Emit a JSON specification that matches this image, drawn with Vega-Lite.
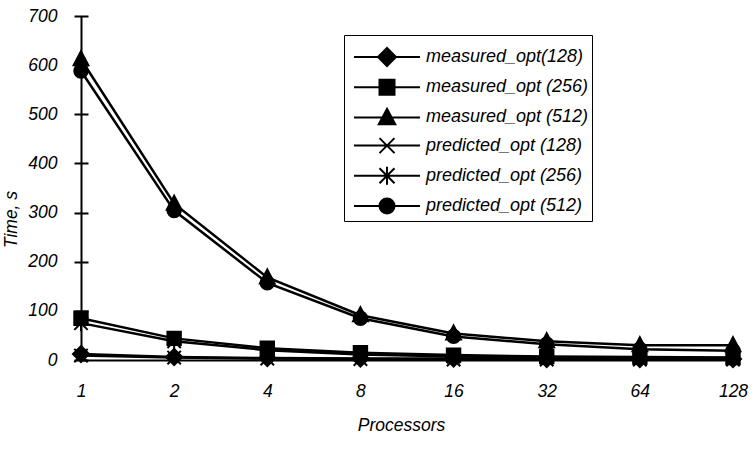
{
  "$schema": "https://vega.github.io/schema/vega-lite/v6.json",
  "width": 652,
  "height": 344,
  "autosize": {"type": "none"},
  "padding": {"left": 81, "top": 16, "right": 22, "bottom": 92},
  "background": "white",
  "config": {"view": {"stroke": null}, "font": "Liberation Sans"},
  "data": {
    "values": [
      {"s": "measured_opt(128)", "p": "1", "t": 12},
      {"s": "measured_opt(128)", "p": "2", "t": 6},
      {"s": "measured_opt(128)", "p": "4", "t": 4},
      {"s": "measured_opt(128)", "p": "8", "t": 3},
      {"s": "measured_opt(128)", "p": "16", "t": 3},
      {"s": "measured_opt(128)", "p": "32", "t": 2},
      {"s": "measured_opt(128)", "p": "64", "t": 2},
      {"s": "measured_opt(128)", "p": "128", "t": 2},
      {"s": "measured_opt (256)", "p": "1", "t": 85},
      {"s": "measured_opt (256)", "p": "2", "t": 44},
      {"s": "measured_opt (256)", "p": "4", "t": 24},
      {"s": "measured_opt (256)", "p": "8", "t": 15},
      {"s": "measured_opt (256)", "p": "16", "t": 10},
      {"s": "measured_opt (256)", "p": "32", "t": 7},
      {"s": "measured_opt (256)", "p": "64", "t": 6},
      {"s": "measured_opt (256)", "p": "128", "t": 5},
      {"s": "measured_opt (512)", "p": "1", "t": 612},
      {"s": "measured_opt (512)", "p": "2", "t": 318},
      {"s": "measured_opt (512)", "p": "4", "t": 168},
      {"s": "measured_opt (512)", "p": "8", "t": 91},
      {"s": "measured_opt (512)", "p": "16", "t": 54},
      {"s": "measured_opt (512)", "p": "32", "t": 38},
      {"s": "measured_opt (512)", "p": "64", "t": 30},
      {"s": "measured_opt (512)", "p": "128", "t": 30},
      {"s": "predicted_opt (128)", "p": "1", "t": 9},
      {"s": "predicted_opt (128)", "p": "2", "t": 5},
      {"s": "predicted_opt (128)", "p": "4", "t": 3},
      {"s": "predicted_opt (128)", "p": "8", "t": 2},
      {"s": "predicted_opt (128)", "p": "16", "t": 1},
      {"s": "predicted_opt (128)", "p": "32", "t": 1},
      {"s": "predicted_opt (128)", "p": "64", "t": 1},
      {"s": "predicted_opt (128)", "p": "128", "t": 1},
      {"s": "predicted_opt (256)", "p": "1", "t": 75},
      {"s": "predicted_opt (256)", "p": "2", "t": 38},
      {"s": "predicted_opt (256)", "p": "4", "t": 20},
      {"s": "predicted_opt (256)", "p": "8", "t": 11},
      {"s": "predicted_opt (256)", "p": "16", "t": 7},
      {"s": "predicted_opt (256)", "p": "32", "t": 5},
      {"s": "predicted_opt (256)", "p": "64", "t": 4},
      {"s": "predicted_opt (256)", "p": "128", "t": 4},
      {"s": "predicted_opt (512)", "p": "1", "t": 588},
      {"s": "predicted_opt (512)", "p": "2", "t": 304},
      {"s": "predicted_opt (512)", "p": "4", "t": 157},
      {"s": "predicted_opt (512)", "p": "8", "t": 85},
      {"s": "predicted_opt (512)", "p": "16", "t": 48},
      {"s": "predicted_opt (512)", "p": "32", "t": 32},
      {"s": "predicted_opt (512)", "p": "64", "t": 22},
      {"s": "predicted_opt (512)", "p": "128", "t": 19}
    ]
  },
  "encoding": {
    "x": {
      "field": "p",
      "type": "ordinal",
      "sort": ["1", "2", "4", "8", "16", "32", "64", "128"],
      "scale": {"type": "point", "padding": 0},
      "axis": {
        "title": "Processors",
        "labelAngle": 0,
        "labelFont": "Liberation Sans",
        "labelFontSize": 17.5,
        "labelFontStyle": "italic",
        "labelColor": "black",
        "labelPadding": 22,
        "ticks": false,
        "tickSize": 0,
        "domain": true,
        "domainColor": "black",
        "domainWidth": 2,
        "titleFont": "Liberation Sans",
        "titleFontSize": 17.5,
        "titleFontStyle": "italic",
        "titleFontWeight": "normal",
        "titleColor": "black",
        "titlePadding": 17,
        "titleX": 320
      }
    }
  },
  "layer": [
    {
      "mark": {"type": "line", "color": "black", "strokeWidth": 2.5},
      "encoding": {
        "detail": {"field": "s"},
        "y": {
          "field": "t",
          "type": "quantitative",
          "scale": {"domain": [0, 700], "nice": false},
          "axis": {
            "orient": "left",
            "title": "Time, s",
            "labels": false,
            "ticks": false,
            "grid": false,
            "domain": true,
            "domainColor": "black",
            "domainWidth": 2,
            "titleFont": "Liberation Sans",
            "titleFontSize": 17.5,
            "titleFontStyle": "italic",
            "titleFontWeight": "normal",
            "titleColor": "black",
            "titleX": -61,
            "titleY": 203
          }
        }
      }
    },
    {
      "mark": {"type": "point", "filled": true, "color": "black", "stroke": "black", "strokeWidth": 2, "size": 180, "opacity": 1},
      "encoding": {
        "y": {
          "field": "t",
          "type": "quantitative",
          "axis": {
            "orient": "left",
            "title": null,
            "values": [0, 100, 200, 300, 400, 500, 600, 700],
            "domain": false,
            "grid": false,
            "offset": -7,
            "tickSize": 14,
            "tickWidth": 2,
            "tickColor": "black",
            "labelPadding": 17,
            "labelFont": "Liberation Sans",
            "labelFontSize": 17.5,
            "labelFontStyle": "italic",
            "labelColor": "black"
          }
        },
        "shape": {
          "field": "s",
          "scale": {
            "domain": ["measured_opt(128)", "measured_opt (256)", "measured_opt (512)", "predicted_opt (128)", "predicted_opt (256)", "predicted_opt (512)"],
            "range": [
              "M0,-1.2L1.2,0L0,1.2L-1.2,0Z",
              "M-1,-1L1,-1L1,1L-1,1Z",
              "M0,-1.2L1.1,0.9L-1.1,0.9Z",
              "M-1,-1L1,1M-1,1L1,-1",
              "M-1,-1L1,1M-1,1L1,-1M0,-1.2L0,1.2",
              "M1,0A1,1,0,1,1,-1,0A1,1,0,1,1,1,0Z"
            ]
          },
          "legend": null
        }
      }
    },
    {
      "mark": {"type": "point", "filled": false, "fill": "black", "stroke": "black", "strokeWidth": 2, "size": 0, "opacity": 1},
      "encoding": {
        "y": {"field": "t", "type": "quantitative", "axis": null},
        "shape": {
          "field": "s",
          "scale": {
            "domain": ["measured_opt(128)", "measured_opt (256)", "measured_opt (512)", "predicted_opt (128)", "predicted_opt (256)", "predicted_opt (512)"],
            "range": [
              "M-4.4,0L4.4,0M0,-1.2L1.2,0L0,1.2L-1.2,0Z",
              "M-4.4,0L4.4,0M-1,-1L1,-1L1,1L-1,1Z",
              "M-4.4,0L4.4,0M0,-1.15L1.1,0.9L-1.1,0.9Z",
              "M-4.4,0L4.4,0M-1,-1L1,1M-1,1L1,-1",
              "M-4.4,0L4.4,0M-1,-1L1,1M-1,1L1,-1M0,-1.2L0,1.2",
              "M-4.4,0L4.4,0M1,0A1,1,0,1,1,-1,0A1,1,0,1,1,1,0Z"
            ]
          },
          "legend": {
            "title": " ",
            "titleFontSize": 1,
            "titlePadding": 9,
            "orient": "none",
            "legendX": 263,
            "legendY": 19,
            "strokeColor": "black",
            "padding": 3,
            "symbolOffset": 31,
            "labelOffset": 30,
            "rowPadding": 5.2,
            "symbolSize": 225,
            "symbolStrokeWidth": 2,
            "symbolFillColor": "black",
            "symbolOpacity": 1,
            "labelFont": "Liberation Sans",
            "labelFontSize": 18,
            "labelFontStyle": "italic",
            "labelColor": "black",
            "labelLimit": 300,
            "encode": {
              "symbols": {
                "stroke": {"value": "black"},
                "strokeWidth": {"value": 2},
                "fill": {"value": "black"}
              },
              "legend": {
                "strokeWidth": {"value": 2}
              }
            }
          }
        }
      }
    }
  ],
  "resolve": {
    "scale": {"shape": "independent"},
    "legend": {"shape": "independent"},
    "axis": {"y": "independent"}
  }
}
